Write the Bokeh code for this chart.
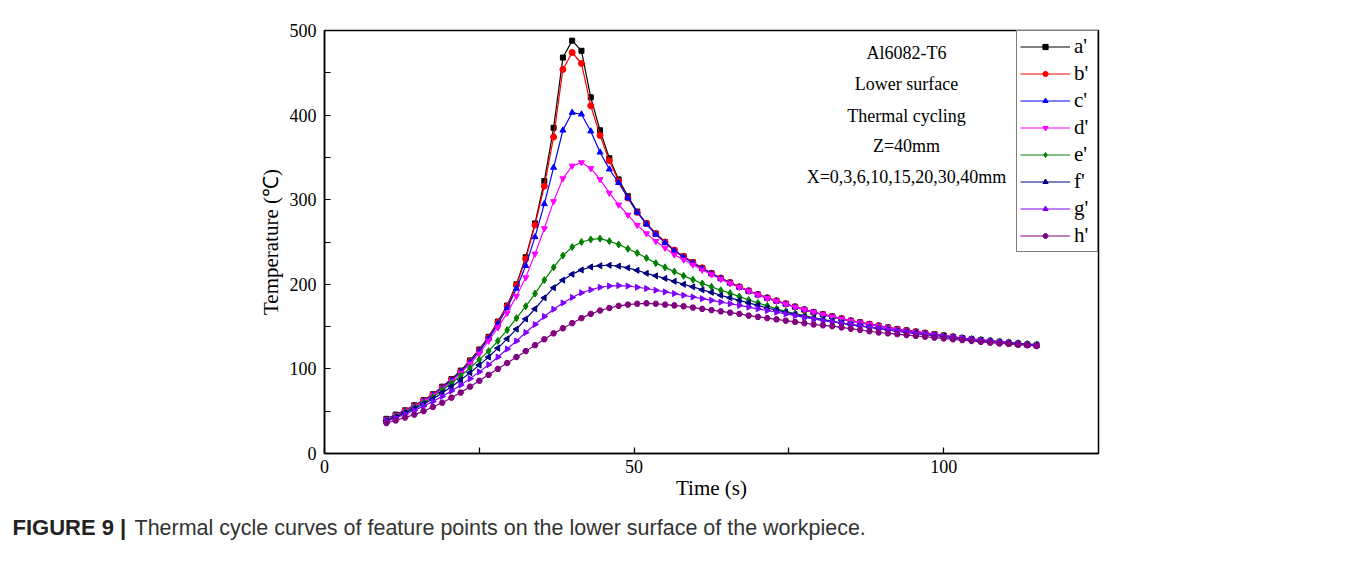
import math
from bokeh.plotting import figure
from bokeh.layouts import column
from bokeh.models import Range1d, FixedTicker, Label, Legend, LegendItem
from bokeh.embed import file_html
from bokeh.resources import INLINE

TIME = [10, 11.5, 13, 14.5, 16, 17.5, 19, 20.5, 22, 23.5,
        25, 26.5, 28, 29.5, 31, 32.5, 34, 35.5, 37, 38.5,
        40, 41.5, 43, 44.5, 46, 47.5, 49, 50.5, 52, 53.5,
        55, 56.5, 58, 59.5, 61, 62.5, 64, 65.5, 67, 68.5,
        70, 71.5, 73, 74.5, 76, 77.5, 79, 80.5, 82, 83.5,
        85, 86.5, 88, 89.5, 91, 92.5, 94, 95.5, 97, 98.5,
        100, 101.5, 103, 104.5, 106, 107.5, 109, 110.5, 112, 113.5,
        115]

A = [41, 46, 51, 57, 63, 70, 79, 88, 98, 110,
     123, 138, 156, 175, 200, 232, 272, 322, 385, 468,
     488, 476, 421, 382, 349, 324, 304, 286, 272, 260,
     250, 240, 233, 226, 219, 213, 207, 202, 197, 192,
     188, 184, 180.5, 177, 173.5, 170, 167, 164.5, 162, 159.5,
     157, 155, 153, 151, 149, 147, 145.5, 144, 142.5, 141,
     139.5, 138, 136.5, 135, 134, 132.5, 131.5, 130.5, 129.5, 128.5,
     128]

B = [40, 45, 50.5, 56.5, 62.5, 69.5, 78, 87, 97, 109,
     122, 137, 155, 174, 199, 230, 270, 316, 374, 454,
     474, 461, 411, 376, 346, 322, 302, 285, 272, 260,
     250, 240.5, 233, 226, 219.5, 213, 207.5, 202, 197, 192.5,
     188, 184, 180.5, 177, 173.5, 170, 167, 164.5, 162, 159.5,
     157, 155, 153, 151, 149, 147, 145.5, 144, 142.5, 141,
     139.5, 138, 136.5, 135, 134, 132.5, 131.5, 130.5, 129.5, 128.5,
     128]

C = [40, 45, 50, 56, 62, 69, 77.5, 86.5, 96.5, 108,
     121, 136, 153, 172, 195, 222, 256, 295, 338, 382,
     403, 401, 381, 356, 336, 320, 302, 285, 271, 259,
     249, 239.5, 232, 225, 218.5, 212.5, 207, 201.5, 196.5, 192,
     187.5, 183.5, 180, 176.5, 173, 170, 167, 164, 161.5, 159,
     156.5, 154.5, 152.5, 150.5, 148.5, 146.5, 145, 143.5, 142, 140.5,
     139, 137.5, 136, 135, 133.5, 132.5, 131.5, 130.5, 129.5, 128.5,
     128]

D = [40, 45, 50, 55.5, 61.5, 68.5, 76.5, 85, 95, 106,
     118, 133, 149, 166, 186, 208, 236, 266, 298, 325,
     340, 344, 337, 324, 308, 294, 282, 270, 260, 251,
     243, 235, 229, 223, 217, 211.5, 206, 201, 196.5, 192,
     187.5, 183.5, 180, 176.5, 173, 170, 167, 164, 161.5, 159,
     156.5, 154.5, 152.5, 150.5, 148.5, 146.5, 145, 143.5, 142, 140.5,
     139, 137.5, 136.5, 135, 134, 132.5, 131.5, 130.5, 129.5, 128.5,
     128]

E = [39, 44, 49, 54.5, 60, 66.5, 75, 83, 92, 101,
     111, 121, 133, 146, 160, 174, 189, 205, 220, 234,
     244, 250, 253, 254, 251, 247, 242, 237, 231, 225,
     220, 215, 210, 205.5, 201, 197, 193, 189.5, 185.5, 181.5,
     178, 174.5, 171, 168, 165.5, 163, 160.5, 158.5, 156.5, 154.5,
     152.5, 151, 149.5, 148, 146.5, 145, 143.5, 142.5, 141, 140,
     139, 137.5, 136.5, 135.5, 134.5, 133.5, 132.5, 131.5, 130.5, 129.5,
     129]

F = [38.5, 43, 48, 53, 58.5, 64.5, 71.5, 79, 87, 95.5,
     104.5, 114, 124.5, 135.5, 147, 159, 171, 184, 196, 205,
     212, 217, 220.5, 222, 222.5, 221.5, 219.5, 216.5, 213, 210,
     207, 203.5, 200, 197, 193.5, 190.5, 187, 184, 181, 178,
     175, 172, 169.5, 167, 164.5, 162, 160, 158, 156, 154,
     152, 150.5, 149, 147.5, 146, 144.5, 143, 142, 140.5, 139.5,
     138.5, 137, 136, 135, 134, 133, 132, 131, 130, 129,
     128.5]

G = [38, 42, 46.5, 51, 56, 61.5, 67.5, 74, 81, 88.5,
     96.5, 105, 114, 123.5, 133, 143, 152.5, 162, 170.5, 178,
     184.5, 190, 193.5, 196.5, 198, 198.5, 198, 196.5, 195, 193,
     191, 189, 187, 185, 183, 181, 179, 177, 175, 173,
     171, 169, 167, 165, 163, 161, 159, 157, 155.5, 154,
     152.5, 151, 149.5, 148, 146.5, 145, 143.5, 142, 141, 140,
     138.5, 137.5, 136.5, 135, 134, 133, 132, 131, 130, 129,
     128]

H = [36, 39, 42.5, 46, 50, 55, 60, 66, 72, 79,
     86, 93, 100, 107, 114, 121, 128, 135, 142, 148,
     154, 160, 165, 169, 172, 174.5, 176, 177, 177.5, 177,
     176, 175, 174, 172.5, 171, 169.5, 168, 166.5, 165, 163,
     161.5, 160, 158.5, 157, 155.5, 154, 152.5, 151.5, 150.5, 149,
     147.5, 146, 144.5, 143, 142, 141, 140, 139, 138, 137,
     136, 135, 134, 133, 132, 131, 130, 129.5, 128.5, 128,
     127]

SERIES_NAMES = ["a'", "b'", "c'", "d'", "e'", "f'", "g'", "h'"]
SERIES = [A, B, C, D, E, F, G, H]
COLORS = ["#000000", "#ff0000", "#0000ff", "#ff00ff", "#008000", "#000080", "#8000ff", "#800080"]
MARKERS = ["square", "circle", "triangle", "inverted_triangle", "diamond", "triangle", "triangle", "hex"]
ANGLES = [0, 0, 0, 0, 0, math.pi / 2, -math.pi / 2, 0]
SIZES = [5, 6, 6, 6, 7, 6, 6, 6]

X_TICKS = [0, 50, 100]
X_MINOR = [25, 75]
Y_TICKS = [0, 100, 200, 300, 400, 500]
Y_MINOR = [50, 150, 250, 350, 450]

NOTE_LINES = ["Al6082-T6", "Lower surface", "Thermal cycling", "Z=40mm", "X=0,3,6,10,15,20,30,40mm"]
NOTE_Y = [473, 437, 399, 363, 327]
NOTE_X = 94.0

CAPTION_BOLD = "FIGURE 9 |"
CAPTION_TEXT = "Thermal cycle curves of feature points on the lower surface of the workpiece."

SERIF = "Liberation Serif"

p = figure(width=1338, height=508, output_backend="svg", toolbar_location=None,
           x_range=Range1d(0, 125), y_range=Range1d(0, 500),
           min_border_left=324, min_border_right=240, min_border_top=30, min_border_bottom=55)

p.xgrid.visible = False
p.ygrid.visible = False
p.outline_line_color = "black"
p.outline_line_width = 1.5
p.background_fill_color = "white"
p.border_fill_color = "white"

for ax, ticks, minor in ((p.xaxis[0], X_TICKS, X_MINOR), (p.yaxis[0], Y_TICKS, Y_MINOR)):
    ax.ticker = FixedTicker(ticks=ticks, minor_ticks=minor)
    ax.axis_line_color = "black"
    ax.axis_line_width = 1.5
    ax.major_tick_in = 6
    ax.major_tick_out = 0
    ax.minor_tick_in = 6
    ax.minor_tick_out = 0
    ax.major_tick_line_color = "black"
    ax.minor_tick_line_color = "black"
    ax.major_tick_line_width = 1.2
    ax.minor_tick_line_width = 1.2
    ax.major_label_text_font = SERIF
    ax.major_label_text_font_size = "18px"
    ax.major_label_text_color = "black"
    ax.axis_label_text_font = SERIF
    ax.axis_label_text_font_size = "21px"
    ax.axis_label_text_font_style = "normal"
    ax.axis_label_text_color = "black"

p.xaxis.axis_label = "Time (s)"
p.yaxis.axis_label = "Temperature (\u2103)"
p.xaxis.major_label_standoff = 6
p.yaxis.major_label_standoff = 8
p.xaxis.axis_label_standoff = 0
p.yaxis.axis_label_standoff = 4

items = []
for name, ys, col, mk, ang, sz in zip(SERIES_NAMES, SERIES, COLORS, MARKERS, ANGLES, SIZES):
    ln = p.line(TIME, ys, line_color=col, line_width=1.2)
    sc = p.scatter(TIME, ys, marker=mk, size=sz, angle=ang, fill_color=col, line_color=col)
    items.append(LegendItem(label=name, renderers=[ln, sc]))

legend = Legend(items=items, location="top_right", margin=0, padding=3, spacing=2,
                glyph_width=50, glyph_height=13, label_height=22, label_standoff=4,
                label_text_font=SERIF, label_text_font_size="21px", label_text_color="black",
                border_line_color="black", border_line_width=1, background_fill_alpha=1)
p.add_layout(legend)

for txt, yy in zip(NOTE_LINES, NOTE_Y):
    p.add_layout(Label(x=NOTE_X, y=yy, text=txt, text_align="center", text_baseline="middle",
                       text_font=SERIF, text_font_size="18px", text_color="black"))

# caption strip (second figure, text only)
cap = figure(width=1338, height=46, output_backend="svg", toolbar_location=None,
             x_range=Range1d(0, 1), y_range=Range1d(0, 1),
             x_axis_location=None, y_axis_location=None, min_border=0)
cap.xgrid.visible = False
cap.ygrid.visible = False
cap.outline_line_color = None
cap.add_layout(Label(x=12, y=27, x_units="screen", y_units="screen", text=CAPTION_BOLD,
                     text_font="Liberation Sans", text_font_style="bold", text_font_size="22px",
                     text_baseline="middle", text_color="#222222"))
cap.add_layout(Label(x=134, y=27, x_units="screen", y_units="screen", text=CAPTION_TEXT,
                     text_font="Liberation Sans", text_font_size="21.5px",
                     text_baseline="middle", text_color="#333333"))

layout = column(p, column(cap, spacing=0), spacing=0)
open("out.html", "w").write(file_html(layout, INLINE))
